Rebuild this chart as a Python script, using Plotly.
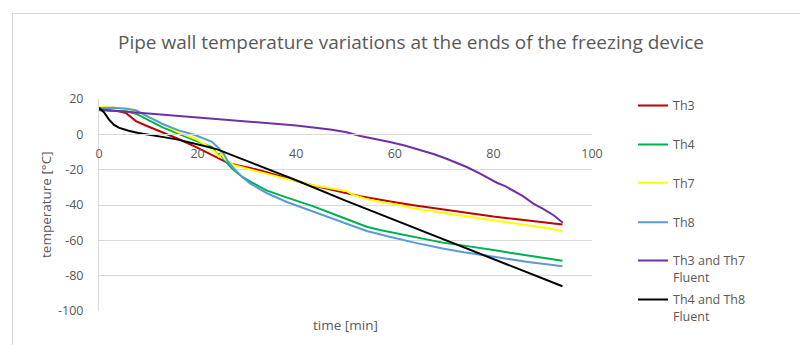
import plotly.graph_objects as go

# ---------------- data ----------------
th3_t = [0, 2, 4, 5.5, 7.5, 9.5, 12.8, 16, 19.5, 22, 24, 26, 28, 30.7, 34, 37.4, 40, 43.5, 47, 50.3,
         53, 57, 60, 63.8, 67, 70.7, 74, 77.3, 80, 84, 87, 90.8, 94]
th3_v = [14, 13.5, 13, 12, 7.5, 5, 1.3, -2.5, -7, -10.5, -13, -16, -17.5, -19, -21.5, -24.5, -26.5, -29, -31, -33.3,
         -35, -37.2, -38.5, -40.2, -41.5, -43, -44.3, -45.5, -46.5, -47.8, -48.7, -49.8, -51]

th4_t = [0, 3, 5.5, 7.5, 9.4, 12.8, 16, 19.5, 22.9, 24, 24.6, 25.2, 26.5, 27.4, 29, 30.7, 34, 37.4, 40, 43.5,
         47, 50.3, 54.3, 57, 59.6, 63.8, 67, 69.7, 74, 77.8, 80, 84, 87, 90.8, 94]
th4_v = [13.6, 13.5, 13, 11.7, 8.9, 4.1, 0.4, -3.4, -7.2, -11.5, -11, -13.5, -18, -20.4, -24, -26.8, -31.7, -35.1, -37.5, -40.8,
         -44.5, -48, -52.3, -54.2, -55.6, -58.2, -60, -61.3, -63, -64.4, -65.5, -67.3, -68.5, -70, -71.5]

th7_t = [0, 3, 6, 8, 9.5, 12.8, 16, 19.5, 22, 23.5, 24.3, 24.8, 25.5, 27.4, 30, 34, 37, 40.8, 43.5, 47,
         50.3, 51.5, 54, 57, 60, 63.8, 67, 70.7, 74, 77.3, 80, 84, 87, 90.8, 94]
th7_v = [15.5, 15.3, 14.8, 12.5, 10.7, 6, 1.3, -2.5, -6.5, -10, -12.5, -11, -14, -17.5, -19.5, -22.3, -24.5, -27, -28.8, -30.5,
         -32.2, -34.2, -36.5, -38.3, -39.5, -42, -43.2, -44.9, -46.2, -47.7, -48.7, -50.5, -51.6, -53, -54.7]

th8_t = [0, 3, 5.5, 7.5, 9.4, 12.8, 16, 19.5, 22.9, 24, 25.3, 26, 27.4, 29, 30.7, 34, 38.1, 42.8, 44.2, 47,
         50.3, 54.3, 59.6, 64, 69.7, 74, 77.8, 80, 84, 87, 90.8, 94]
th8_v = [14.9, 15, 14.5, 13.6, 10.7, 6, 2.4, -0.4, -4.3, -7, -11, -14.7, -19.4, -24, -27.9, -33.2, -38.3, -43, -44.4, -47,
         -50.5, -54.7, -58.4, -61.3, -64.6, -66.8, -68.3, -69.3, -71, -72.2, -73.6, -74.7]

f37_t = [0, 5, 10, 15, 20, 25.7, 30, 36.7, 40, 46.9, 50, 53, 56, 59, 62, 65.1, 68, 70.5, 72.5, 74.6,
         77.3, 79, 80.7, 82.5, 84, 86, 88.1, 90, 92.2, 94.1]
f37_v = [14.1, 13, 11.7, 10.7, 9.6, 8.5, 7.5, 6, 5, 2.8, 1.3, -0.9, -2.5, -4.3, -6.3, -8.7, -11.3, -13.8, -16, -18.5,
         -22.3, -25, -27.4, -29.5, -31.7, -35, -39.2, -42, -45.8, -50]

f48_t = [0, 1, 2, 3, 4, 6, 8, 10, 12, 14, 16, 18, 20, 22, 24, 30, 40, 50, 60, 70, 80, 90, 94]
f48_v = [15, 12.5, 8.5, 5.5, 3.8, 2, 0.8, 0, -1, -2, -3, -4.2, -5.5, -7, -8.5, -15, -26, -37.5, -48.5, -59.5,
         -70.5, -81.5, -86]

series_names = ["Th3", "Th4", "Th7", "Th8", "Th3 and Th7<br>Fluent", "Th4 and Th8<br>Fluent"]
series_t = [th3_t, th4_t, th7_t, th8_t, f37_t, f48_t]
series_v = [th3_v, th4_v, th7_v, th8_v, f37_v, f48_v]
colors = ["#C00000", "#00B050", "#FFFF00", "#5B9BD5", "#7030A0", "#000000"]

x_ticks = [0, 20, 40, 60, 80, 100]
x_ticklabels = ["0", "20", "40", "60", "80", "100"]
y_ticks = [20, 0, -20, -40, -60, -80, -100]
y_ticklabels = ["20", "0", "-20", "-40", "-60", "-80", "-100"]

title_text = "Pipe wall temperature variations at the ends of the freezing device"
x_title = "time [min]"
y_title = "temperature [°C]"

# ---------------- layout geometry ----------------
W, H = 800, 345
L, R, T, B = 99, 592, 99, 311   # plot area pixel box
def px_x(px):
    return (px - L) / (R - L)
def px_y(py):
    return (B - py) / (B - T)

FONT = "Open Sans"
GREY = "#595959"
GRID = "#D9D9D9"

fig = go.Figure()
legend_keys = ["legend", "legend2", "legend3", "legend4", "legend5", "legend6"]
for name, t, v, c, lk in zip(series_names, series_t, series_v, colors, legend_keys):
    fig.add_trace(go.Scatter(x=t, y=v, mode="lines", name=name, legend=lk,
                             line=dict(color=c, width=2)))

legend_rows = [103.3, 142.3, 180.7, 220, 258.3, 297.3]
legend_layout = {}
for lk, row in zip(legend_keys, legend_rows):
    legend_layout[lk] = dict(x=px_x(633), xanchor="left", y=px_y(row - 12.5), yanchor="top",
                             font=dict(family=FONT, size=12.5, color=GREY), bgcolor="rgba(0,0,0,0)",
                             valign="top", itemclick=False, itemdoubleclick=False)

y0_pos = (0 - (-100)) / 120.0

fig.update_layout(
    width=W, height=H,
    margin=dict(l=L, r=W - R, t=T, b=H - B, pad=0),
    paper_bgcolor="white", plot_bgcolor="white",
    font=dict(family=FONT, size=12, color=GREY),
    title=dict(text=title_text, x=411 / W, xanchor="center", xref="container",
               y=1 - 42 / H, yanchor="middle", yref="container",
               font=dict(family=FONT, size=19, color=GREY)),
    showlegend=True,
    xaxis=dict(range=[0, 100], tickvals=x_ticks, ticktext=x_ticklabels, anchor="free", position=y0_pos,
               showgrid=False, zeroline=False, showline=True, linecolor=GRID, linewidth=1,
               ticks="outside", ticklen=8, tickcolor="rgba(0,0,0,0)",
               tickfont=dict(family=FONT, size=12.5, color=GREY)),
    yaxis=dict(range=[-100, 20], tickvals=y_ticks, ticktext=y_ticklabels, showgrid=True, gridcolor=GRID, gridwidth=1,
               zeroline=False, showline=True, linecolor=GRID, linewidth=1,
               ticks="outside", ticklen=12, tickcolor="rgba(0,0,0,0)",
               tickfont=dict(family=FONT, size=12.5, color=GREY)),
    annotations=[
        dict(text=x_title, xref="paper", yref="paper", x=px_x(345.5), y=px_y(325),
             xanchor="center", yanchor="middle", showarrow=False,
             font=dict(family=FONT, size=13.5, color=GREY)),
        dict(text=y_title, xref="paper", yref="paper", x=px_x(46), y=px_y(205),
             xanchor="center", yanchor="middle", showarrow=False, textangle=-90,
             font=dict(family=FONT, size=13.5, color=GREY)),
    ],
    shapes=[dict(type="rect", xref="paper", yref="paper",
                 x0=px_x(12.5), y0=px_y(360), x1=px_x(815), y1=px_y(13.5),
                 line=dict(color=GRID, width=1), fillcolor="rgba(0,0,0,0)", layer="below")],
    **legend_layout,
)

fig.write_html("out.html")
